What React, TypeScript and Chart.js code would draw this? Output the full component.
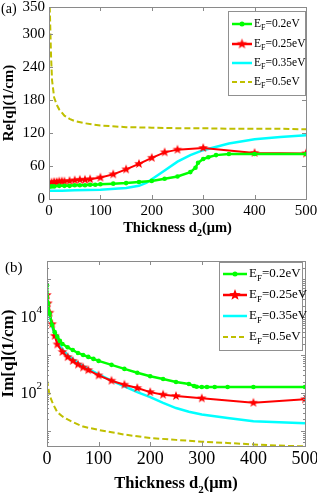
import React, { useEffect, useRef } from 'react';
import { Chart, registerables } from 'chart.js';
Chart.register(...registerables);

const thicknessTicks = [0, 100, 200, 300, 400, 500];
const reTicks = [0, 60, 120, 180, 240, 300, 350];
const imLabelTicks = [100, 10000];
const imDecades = [10, 100, 1000, 10000, 100000];
const fermiLabels = ['=0.2eV', '=0.25eV', '=0.35eV', '=0.5eV'];
const seriesColors = ['#00ff00', '#ff0000', '#00ffff', '#bfbf00'];

// panel (a) Re[q] (1/cm)
const reGreenX = [0, 5, 10, 20, 30, 40, 50, 60, 70, 80, 90, 100, 125, 150, 175, 200, 225, 250, 275, 285, 290, 300, 310, 325, 350, 400, 500];
const reGreenY = [22, 23, 23, 24, 24, 24, 25, 25, 25, 26, 26, 27, 28, 29, 31, 33, 37, 41, 49, 57, 66, 73, 76, 80, 82, 82, 82];
const reRedX = [0, 5, 10, 15, 20, 25, 30, 40, 50, 60, 70, 80, 100, 125, 150, 175, 200, 225, 250, 300, 400, 500];
const reRedY = [29, 30, 31, 31, 32, 32, 32, 33, 34, 35, 35, 36, 39, 45, 54, 64, 75, 85, 90, 93, 84, 83];
const reCyanX = [0, 25, 50, 100, 150, 175, 190, 200, 225, 250, 275, 300, 350, 400, 450, 500];
const reCyanY = [15, 15, 16, 17, 20, 24, 30, 36, 52, 68, 80, 89, 101, 109, 113, 116];
const reYellowX = [0, 2, 4, 6, 10, 15, 20, 30, 40, 50, 70, 100, 150, 200, 250, 300, 350, 400, 450, 500];
const reYellowY = [400, 330, 260, 216, 185, 172, 163, 152, 146, 142, 138, 134, 131, 130, 129, 129, 128, 128, 128, 127];

// panel (b) Im[q] (1/cm)
const imGreenX = [0, 2, 5, 10, 15, 20, 25, 30, 40, 50, 60, 70, 80, 90, 100, 125, 150, 175, 200, 225, 250, 275, 285, 290, 300, 310, 325, 350, 400, 500];
const imGreenY = [69000, 23000, 12500, 6200, 4000, 3000, 2350, 1950, 1600, 1350, 1130, 1000, 890, 790, 700, 550, 430, 340, 275, 234, 195, 172, 153, 146, 144, 144, 144, 144, 144, 144];
const imRedX = [0, 2, 5, 10, 15, 20, 30, 40, 50, 60, 70, 80, 100, 125, 150, 175, 200, 225, 250, 300, 400, 500];
const imRedY = [38000, 23000, 13000, 6500, 3200, 1900, 1200, 880, 700, 560, 470, 400, 290, 210, 165, 135, 105, 90, 83, 72, 55, 68];
const imCyanX = [0, 2, 5, 10, 20, 30, 40, 50, 60, 80, 100, 125, 150, 175, 200, 225, 250, 275, 300, 350, 400, 450, 500];
const imCyanY = [33000, 20000, 11000, 5500, 2300, 1400, 1000, 780, 620, 430, 310, 210, 150, 105, 78, 55, 40, 32, 27, 22, 18, 17, 16];
const imYellowX = [0, 2, 4, 6, 10, 15, 20, 30, 40, 50, 70, 100, 150, 200, 250, 300, 350, 400, 450, 500];
const imYellowY = [220, 150, 105, 80, 58, 42, 31, 24, 20, 17, 13, 10.6, 8, 6.5, 5.8, 5.2, 4.8, 4.4, 4.1, 3.9];

const SERIF = '"Liberation Serif", "Times New Roman", serif';

function makeStar(r: number, color: string): HTMLCanvasElement {
  const c = document.createElement('canvas');
  const s = Math.ceil(r * 2) + 2;
  c.width = s;
  c.height = s;
  const ctx = c.getContext('2d')!;
  ctx.beginPath();
  for (let i = 0; i < 10; i++) {
    const rad = i % 2 === 0 ? r : r * 0.42;
    const a = -Math.PI / 2 + (i * Math.PI) / 5;
    const x = s / 2 + rad * Math.cos(a);
    const y = s / 2 + rad * Math.sin(a);
    if (i === 0) ctx.moveTo(x, y);
    else ctx.lineTo(x, y);
  }
  ctx.closePath();
  ctx.fillStyle = color;
  ctx.fill();
  return c;
}

function pts(xs: number[], ys: number[]) {
  return xs.map((x, i) => ({ x, y: ys[i] }));
}

function makeDatasets(g: any[], r: any[], c: any[], y: any[], star: HTMLCanvasElement, dot: number) {
  return [
    { data: g, borderColor: seriesColors[0], backgroundColor: seriesColors[0], borderWidth: 2.5, pointRadius: dot, pointStyle: 'circle', pointBorderWidth: 0, tension: 0 },
    { data: r, borderColor: seriesColors[1], backgroundColor: seriesColors[1], borderWidth: 2, pointStyle: star, pointRadius: 5, tension: 0 },
    { data: c, borderColor: seriesColors[2], borderWidth: 2.5, pointRadius: 0, tension: 0 },
    { data: y, borderColor: seriesColors[3], borderWidth: 2, borderDash: [6, 3], pointRadius: 0, tension: 0 },
  ];
}

function drawLegend(ctx: CanvasRenderingContext2D, bx: number, by: number, bw: number, bh: number, rows: number[], fs: number, s0: number, s1: number, tx: number, star: HTMLCanvasElement) {
  ctx.save();
  ctx.fillStyle = '#ffffff';
  ctx.fillRect(bx, by, bw, bh);
  ctx.strokeStyle = '#909090';
  ctx.lineWidth = 1;
  ctx.strokeRect(bx + 0.5, by + 0.5, bw, bh);
  rows.forEach((ry, i) => {
    const y = by + ry;
    ctx.beginPath();
    ctx.strokeStyle = seriesColors[i];
    ctx.lineWidth = i === 3 ? 2 : 2.5;
    ctx.setLineDash(i === 3 ? [5, 3] : []);
    ctx.moveTo(bx + s0, y);
    ctx.lineTo(bx + s1, y);
    ctx.stroke();
    ctx.setLineDash([]);
    const mid = bx + (s0 + s1) / 2;
    if (i === 0) {
      ctx.beginPath();
      ctx.fillStyle = seriesColors[0];
      ctx.arc(mid, y, 2.5, 0, Math.PI * 2);
      ctx.fill();
    } else if (i === 1) {
      ctx.drawImage(star, mid - star.width / 2, y - star.height / 2);
    }
    ctx.fillStyle = '#000';
    ctx.textBaseline = 'middle';
    ctx.textAlign = 'left';
    ctx.font = `${fs}px ${SERIF}`;
    let x = bx + tx;
    ctx.fillText('E', x, y);
    x += ctx.measureText('E').width;
    ctx.font = `${Math.round(fs * 0.72)}px ${SERIF}`;
    ctx.fillText('F', x, y + fs * 0.38);
    x += ctx.measureText('F').width;
    ctx.font = `${fs}px ${SERIF}`;
    ctx.fillText(fermiLabels[i], x, y);
  });
  ctx.restore();
}

function drawXTitle(ctx: CanvasRenderingContext2D, cx: number, cy: number, fs: number) {
  ctx.save();
  ctx.fillStyle = '#000';
  ctx.textBaseline = 'middle';
  ctx.textAlign = 'left';
  const big = `bold ${fs}px ${SERIF}`;
  const small = `bold ${Math.round(fs * 0.68)}px ${SERIF}`;
  ctx.font = big;
  const w1 = ctx.measureText('Thickness d').width;
  const w3 = ctx.measureText('(\u03bcm)').width;
  ctx.font = small;
  const w2 = ctx.measureText('2').width;
  let x = cx - (w1 + w2 + w3) / 2;
  ctx.font = big;
  ctx.fillText('Thickness d', x, cy);
  x += w1;
  ctx.font = small;
  ctx.fillText('2', x, cy + fs * 0.35);
  x += w2;
  ctx.font = big;
  ctx.fillText('(\u03bcm)', x, cy);
  ctx.restore();
}

function drawYTitle(ctx: CanvasRenderingContext2D, text: string, cx: number, cy: number, fs: number) {
  ctx.save();
  ctx.translate(cx, cy);
  ctx.rotate(-Math.PI / 2);
  ctx.fillStyle = '#000';
  ctx.textAlign = 'center';
  ctx.textBaseline = 'middle';
  ctx.font = `bold ${fs}px ${SERIF}`;
  ctx.fillText(text, 0, 0);
  ctx.restore();
}

function drawFrame(chart: any, yMajor: number[], yMinor: number[]) {
  const ctx = chart.ctx as CanvasRenderingContext2D;
  const { left, right, top, bottom } = chart.chartArea;
  const xs = chart.scales.x;
  const ys = chart.scales.y;
  ctx.save();
  ctx.strokeStyle = '#8a8a8a';
  ctx.lineWidth = 1;
  ctx.strokeRect(Math.round(left) + 0.5, Math.round(top) + 0.5, Math.round(right - left), Math.round(bottom - top));
  ctx.beginPath();
  thicknessTicks.forEach((v) => {
    const px = Math.round(xs.getPixelForValue(v)) + 0.5;
    ctx.moveTo(px, bottom);
    ctx.lineTo(px, bottom - 4);
    ctx.moveTo(px, top);
    ctx.lineTo(px, top + 4);
  });
  yMajor.forEach((v) => {
    const py = Math.round(ys.getPixelForValue(v)) + 0.5;
    ctx.moveTo(left, py);
    ctx.lineTo(left + 4, py);
    ctx.moveTo(right, py);
    ctx.lineTo(right - 4, py);
  });
  yMinor.forEach((v) => {
    const py = Math.round(ys.getPixelForValue(v)) + 0.5;
    ctx.moveTo(left, py);
    ctx.lineTo(left + 2, py);
    ctx.moveTo(right, py);
    ctx.lineTo(right - 2, py);
  });
  ctx.stroke();
  ctx.restore();
}

function ChartCanvas({ make, width, height, top }: { make: (c: HTMLCanvasElement) => Chart; width: number; height: number; top: number }) {
  const ref = useRef<HTMLCanvasElement | null>(null);
  useEffect(() => {
    if (!ref.current) return;
    const ch = make(ref.current);
    return () => ch.destroy();
  }, []);
  return (
    <canvas
      ref={ref}
      width={width}
      height={height}
      style={{ position: 'absolute', left: 0, top, width, height, display: 'block' }}
    />
  );
}

function makeTop(canvas: HTMLCanvasElement): Chart {
  const star = makeStar(5, seriesColors[1]);
  const legendStar = makeStar(5.5, seriesColors[1]);
  const plugin = {
    id: 'panelA',
    afterDatasetsDraw(chart: any) {
      const ctx = chart.ctx as CanvasRenderingContext2D;
      const { left, right, top, bottom } = chart.chartArea;
      drawFrame(chart, reTicks.filter((v) => v !== 350), []);
      drawLegend(ctx, right - 78, top + 4, 77, 84, [13, 33, 52, 71], 11.5, 4, 24, 26, legendStar);
      drawXTitle(ctx, (left + right) / 2, 228, 14.5);
      drawYTitle(ctx, 'Re[q](1/cm)', 9, (top + bottom) / 2, 15);
      ctx.save();
      ctx.fillStyle = '#000';
      ctx.font = `14px ${SERIF}`;
      ctx.textBaseline = 'middle';
      ctx.textAlign = 'left';
      ctx.fillText('(a)', 1, 9);
      ctx.restore();
    },
  };
  return new Chart(canvas, {
    type: 'line',
    data: {
      datasets: makeDatasets(pts(reGreenX, reGreenY), pts(reRedX, reRedY), pts(reCyanX, reCyanY), pts(reYellowX, reYellowY), star, 2.3) as any,
    },
    options: {
      animation: false,
      responsive: false,
      events: [],
      layout: { padding: { top: 6, right: 11, left: 0, bottom: 0 } },
      plugins: { legend: { display: false }, tooltip: { enabled: false } },
      scales: {
        x: {
          type: 'linear',
          min: 0,
          max: 500,
          grid: { display: false, drawTicks: false },
          border: { display: false },
          afterBuildTicks: (s: any) => {
            s.ticks = thicknessTicks.map((v) => ({ value: v }));
          },
          afterFit: (s: any) => {
            s.height = 46;
            s.paddingLeft = 0;
            s.paddingRight = 0;
          },
          ticks: { color: '#000', padding: 3, maxRotation: 0, font: { family: SERIF, size: 15 } },
        },
        y: {
          type: 'linear',
          min: 0,
          max: 350,
          grid: { display: false, drawTicks: false },
          border: { display: false },
          afterBuildTicks: (s: any) => {
            s.ticks = reTicks.map((v) => ({ value: v }));
          },
          afterFit: (s: any) => {
            s.width = 49;
            s.paddingTop = 0;
            s.paddingBottom = 0;
          },
          ticks: { color: '#000', padding: 4, font: { family: SERIF, size: 15 } },
        },
      },
    },
    plugins: [plugin],
  } as any);
}

function makeBottom(canvas: HTMLCanvasElement): Chart {
  const star = makeStar(5, seriesColors[1]);
  const legendStar = makeStar(6, seriesColors[1]);
  const minors: number[] = [];
  [1, 10, 100, 1000, 10000, 100000].forEach((d) => {
    for (let k = 2; k <= 9; k++) {
      const v = d * k;
      if (v > 4 && v < 300000) minors.push(v);
    }
  });
  const plugin = {
    id: 'panelB',
    afterDatasetsDraw(chart: any) {
      const ctx = chart.ctx as CanvasRenderingContext2D;
      const { left, right, top, bottom } = chart.chartArea;
      const ys = chart.scales.y;
      drawFrame(chart, imDecades, minors);
      drawLegend(ctx, right - 86, top + 1, 83, 88, [12, 33, 54, 75], 13, 4, 28, 30, legendStar);
      drawXTitle(ctx, (left + right) / 2, 239, 16.5);
      drawYTitle(ctx, 'Im[q](1/cm)', 9, (top + bottom) / 2, 17);
      ctx.save();
      ctx.fillStyle = '#000';
      ctx.textBaseline = 'middle';
      imLabelTicks.forEach((v) => {
        const py = ys.getPixelForValue(v);
        const exp = String(Math.round(Math.log10(v)));
        ctx.font = `11px ${SERIF}`;
        const we = ctx.measureText(exp).width;
        ctx.textAlign = 'right';
        ctx.fillText(exp, left - 5, py - 7);
        ctx.font = `16px ${SERIF}`;
        ctx.fillText('10', left - 5 - we, py + 1);
      });
      ctx.font = `15px ${SERIF}`;
      ctx.textAlign = 'left';
      ctx.fillText('(b)', 5, 23);
      ctx.restore();
    },
  };
  return new Chart(canvas, {
    type: 'line',
    data: {
      datasets: makeDatasets(pts(imGreenX, imGreenY), pts(imRedX, imRedY), pts(imCyanX, imCyanY), pts(imYellowX, imYellowY), star, 2.3) as any,
    },
    options: {
      animation: false,
      responsive: false,
      events: [],
      layout: { padding: { top: 16, right: 12, left: 0, bottom: 0 } },
      plugins: { legend: { display: false }, tooltip: { enabled: false } },
      scales: {
        x: {
          type: 'linear',
          min: 0,
          max: 500,
          grid: { display: false, drawTicks: false },
          border: { display: false },
          afterBuildTicks: (s: any) => {
            s.ticks = thicknessTicks.map((v) => ({ value: v }));
          },
          afterFit: (s: any) => {
            s.height = 52;
            s.paddingLeft = 0;
            s.paddingRight = 0;
          },
          ticks: { color: '#000', padding: 2, maxRotation: 0, font: { family: SERIF, size: 18 } },
        },
        y: {
          type: 'logarithmic',
          min: 4,
          max: 300000,
          grid: { display: false, drawTicks: false },
          border: { display: false },
          afterBuildTicks: (s: any) => {
            s.ticks = imDecades.map((v) => ({ value: v }));
          },
          afterFit: (s: any) => {
            s.width = 47;
            s.paddingTop = 0;
            s.paddingBottom = 0;
          },
          ticks: { display: false },
        },
      },
    },
    plugins: [plugin],
  } as any);
}

export default function App() {
  return (
    <div style={{ position: 'absolute', left: 0, top: 0, width: 317, height: 498, background: '#fff', overflow: 'hidden' }}>
      <ChartCanvas make={makeTop} width={317} height={245} top={0} />
      <ChartCanvas make={makeBottom} width={317} height={253} top={245} />
    </div>
  );
}
